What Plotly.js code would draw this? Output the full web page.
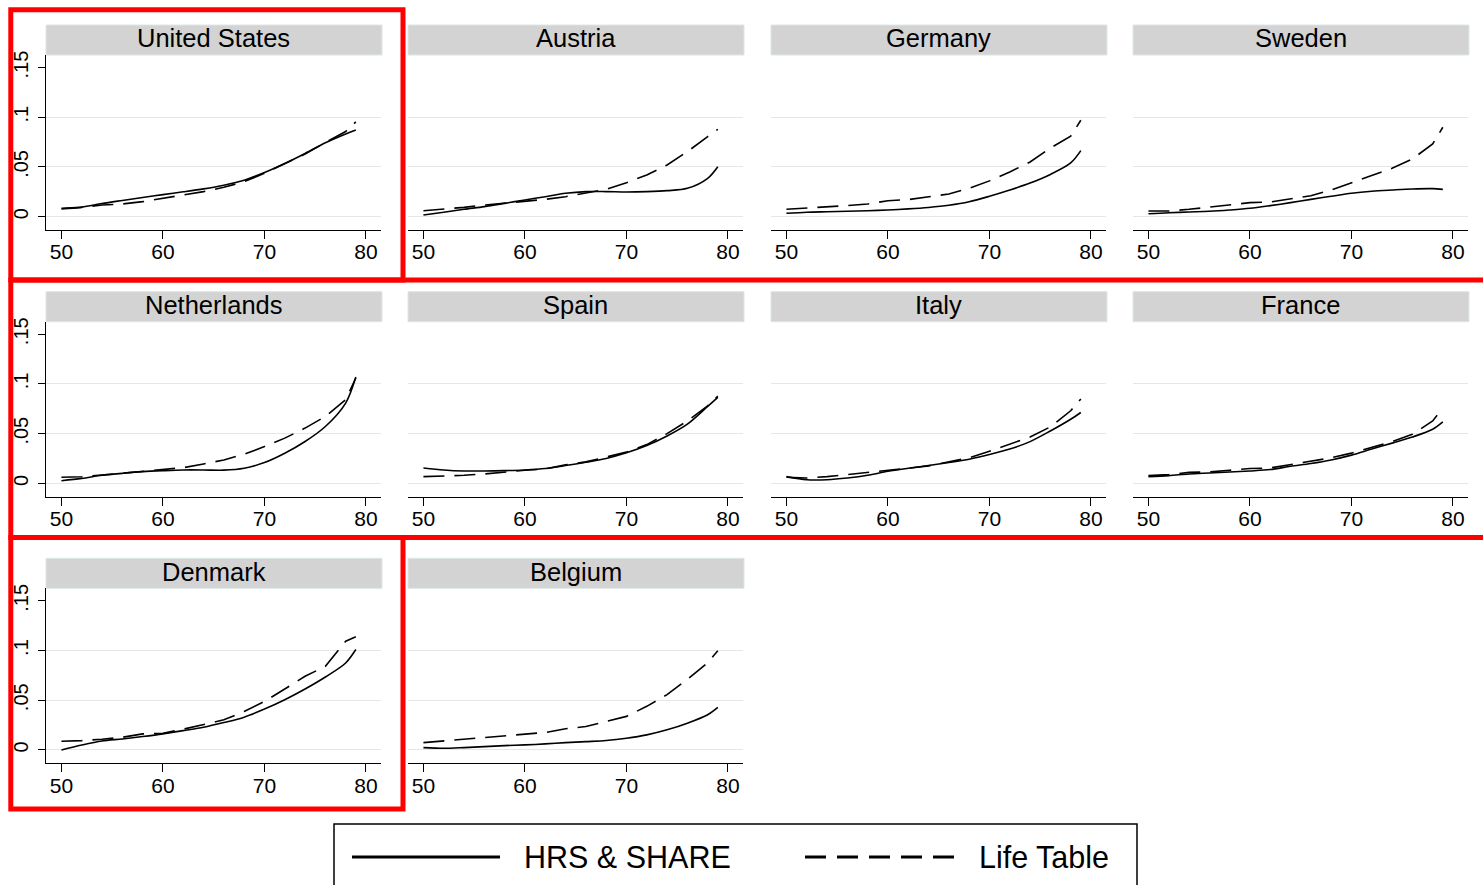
<!DOCTYPE html>
<html>
<head>
<meta charset="utf-8">
<script src="https://cdn.plot.ly/plotly-3.0.1.min.js"></script>
<style>
  html, body { margin: 0; padding: 0; background: #ffffff; }
  #chart { width: 1483px; height: 885px; }
</style>
</head>
<body>
<div id="chart"></div>
<script>
// Ages at which the hazard curves are sampled
const ages = [50, 52, 54, 56, 58, 60, 62, 64, 66, 68, 70, 72, 74, 76, 78, 79];

// HRS & SHARE estimates (solid) and life-table values (dashed), per country
const usHrs   = [0.0077, 0.0096, 0.0132, 0.0163, 0.0193, 0.0222, 0.0250, 0.0280, 0.0317, 0.0367, 0.0444, 0.0535, 0.0636, 0.0743, 0.0832, 0.0872];
const usLife  = [0.0084, 0.0094, 0.0117, 0.0128, 0.0151, 0.0185, 0.0218, 0.0252, 0.0295, 0.0352, 0.0436, 0.0530, 0.0631, 0.0745, 0.0856, 0.0953];
const atHrs   = [0.0017, 0.0044, 0.0074, 0.0101, 0.0134, 0.0168, 0.0201, 0.0235, 0.0252, 0.0252, 0.0248, 0.0252, 0.0262, 0.0285, 0.0386, 0.0503];
const atLife  = [0.0060, 0.0074, 0.0094, 0.0117, 0.0134, 0.0158, 0.0174, 0.0201, 0.0235, 0.0275, 0.0342, 0.0419, 0.0520, 0.0654, 0.0805, 0.0879];
const deHrs   = [0.0034, 0.0045, 0.0050, 0.0055, 0.0060, 0.0067, 0.0078, 0.0093, 0.0115, 0.0150, 0.0205, 0.0268, 0.0338, 0.0425, 0.0540, 0.0664];
const deLife  = [0.0074, 0.0085, 0.0100, 0.0112, 0.0128, 0.0160, 0.0172, 0.0200, 0.0228, 0.0285, 0.0360, 0.0450, 0.0550, 0.0690, 0.0810, 0.0970];
const seHrs   = [0.0030, 0.0040, 0.0047, 0.0054, 0.0067, 0.0084, 0.0111, 0.0141, 0.0174, 0.0205, 0.0235, 0.0255, 0.0268, 0.0279, 0.0282, 0.0275];
const seLife  = [0.0057, 0.0057, 0.0074, 0.0094, 0.0117, 0.0141, 0.0148, 0.0181, 0.0211, 0.0268, 0.0342, 0.0409, 0.0487, 0.0580, 0.0732, 0.0899];
const nlHrs   = [0.0027, 0.0050, 0.0081, 0.0101, 0.0118, 0.0128, 0.0135, 0.0135, 0.0133, 0.0152, 0.0209, 0.0303, 0.0421, 0.0572, 0.0808, 0.1070];
const nlLife  = [0.0061, 0.0067, 0.0084, 0.0101, 0.0118, 0.0135, 0.0158, 0.0195, 0.0236, 0.0293, 0.0370, 0.0455, 0.0556, 0.0673, 0.0842, 0.1060];
const esHrs   = [0.0155, 0.0135, 0.0125, 0.0125, 0.0128, 0.0135, 0.0149, 0.0179, 0.0213, 0.0250, 0.0307, 0.0380, 0.0476, 0.0595, 0.0774, 0.0865];
const esLife  = [0.0068, 0.0071, 0.0081, 0.0095, 0.0115, 0.0132, 0.0145, 0.0186, 0.0216, 0.0264, 0.0314, 0.0390, 0.0500, 0.0628, 0.0780, 0.0878];
const itHrs   = [0.0068, 0.0037, 0.0037, 0.0054, 0.0081, 0.0122, 0.0152, 0.0179, 0.0210, 0.0243, 0.0290, 0.0345, 0.0420, 0.0527, 0.0645, 0.0713];
const itLife  = [0.0061, 0.0054, 0.0068, 0.0088, 0.0110, 0.0125, 0.0152, 0.0176, 0.0213, 0.0257, 0.0324, 0.0392, 0.0466, 0.0568, 0.0730, 0.0848];
const frHrs   = [0.0068, 0.0078, 0.0095, 0.0105, 0.0115, 0.0125, 0.0139, 0.0172, 0.0200, 0.0236, 0.0284, 0.0345, 0.0405, 0.0466, 0.0544, 0.0618];
const frLife  = [0.0078, 0.0088, 0.0111, 0.0115, 0.0132, 0.0149, 0.0155, 0.0189, 0.0216, 0.0257, 0.0304, 0.0358, 0.0419, 0.0493, 0.0628, 0.0757];
const dkHrs   = [0.0000, 0.0050, 0.0091, 0.0111, 0.0135, 0.0162, 0.0195, 0.0229, 0.0276, 0.0330, 0.0411, 0.0505, 0.0613, 0.0734, 0.0875, 0.1010];
const dkLife  = [0.0088, 0.0094, 0.0108, 0.0128, 0.0162, 0.0168, 0.0209, 0.0253, 0.0303, 0.0387, 0.0488, 0.0613, 0.0741, 0.0842, 0.1094, 0.1138];
const beHrs   = [0.0024, 0.0017, 0.0024, 0.0034, 0.0044, 0.0051, 0.0061, 0.0074, 0.0084, 0.0095, 0.0118, 0.0152, 0.0203, 0.0270, 0.0355, 0.0429];
const beLife  = [0.0074, 0.0091, 0.0108, 0.0118, 0.0142, 0.0159, 0.0176, 0.0213, 0.0236, 0.0287, 0.0338, 0.0439, 0.0557, 0.0710, 0.0878, 0.0997];

const countries = ['United States', 'Austria', 'Germany', 'Sweden', 'Netherlands', 'Spain', 'Italy', 'France', 'Denmark', 'Belgium'];
const hrsSeries  = [usHrs, atHrs, deHrs, seHrs, nlHrs, esHrs, itHrs, frHrs, dkHrs, beHrs];
const lifeSeries = [usLife, atLife, deLife, seLife, nlLife, esLife, itLife, frLife, dkLife, beLife];

const xTicks = [50, 60, 70, 80];
const yTicks = [0, 0.05, 0.1, 0.15];
const yTickText = ['0', '.05', '.1', '.15'];
const legendNames = ['HRS & SHARE', 'Life Table'];

// Page geometry (pixels)
const W = 1483, H = 885;
const colLeft = [46, 408, 771, 1133];
const colWidth = 335;
const rowTop = [55, 321.7, 588.3];
const rowHeight = 175;
const stripHeight = 30;

const px = v => v / W;
const py = v => 1 - v / H;
const FONT = 'Liberation Sans, Arial, Helvetica, sans-serif';

const traces = [];
const layout = {
  width: W, height: H,
  margin: { l: 0, r: 0, t: 0, b: 0, pad: 0 },
  paper_bgcolor: '#ffffff',
  plot_bgcolor: '#ffffff',
  showlegend: false,
  font: { family: FONT, color: '#000000' },
  shapes: [],
  annotations: []
};

countries.forEach((name, i) => {
  const row = Math.floor(i / 4), col = i % 4;
  const n = i + 1;
  const xa = 'x' + (n === 1 ? '' : n), ya = 'y' + (n === 1 ? '' : n);
  const xKey = 'xaxis' + (n === 1 ? '' : n), yKey = 'yaxis' + (n === 1 ? '' : n);
  const left = colLeft[col], top = rowTop[row];

  layout[xKey] = {
    domain: [px(left), px(left + colWidth)],
    anchor: ya,
    range: [48.48, 81.48],
    tickmode: 'array', tickvals: xTicks,
    ticks: 'outside', ticklen: 8, tickwidth: 1, tickcolor: '#000',
    ticklabelstandoff: -5,
    showline: true, linecolor: '#000', linewidth: 1,
    showgrid: false, zeroline: false,
    tickfont: { size: 21, color: '#000', family: FONT },
    fixedrange: true
  };
  const first = col === 0;
  layout[yKey] = {
    domain: [py(top + rowHeight), py(top)],
    anchor: xa,
    range: [-0.0134, 0.1626],
    tickmode: 'array', tickvals: yTicks, ticktext: yTickText,
    showticklabels: first,
    ticks: first ? 'outside' : '', ticklen: 7, tickwidth: 1, tickcolor: '#000',
    tickangle: -90,
    ticklabelstandoff: 2,
    showline: first, linecolor: '#000', linewidth: 1,
    showgrid: false, zeroline: false,
    minor: { tickmode: 'array', tickvals: [0, 0.05, 0.1], showgrid: true, gridcolor: '#e6e6e6', gridwidth: 1, ticks: '' },
    tickfont: { size: 20, color: '#000', family: FONT },
    fixedrange: true
  };

  traces.push({
    type: 'scatter', mode: 'lines', x: ages, y: hrsSeries[i],
    xaxis: xa, yaxis: ya, name: legendNames[0],
    line: { color: '#000', width: 1.6, shape: 'spline', smoothing: 0.9 },
    hoverinfo: 'skip'
  });
  traces.push({
    type: 'scatter', mode: 'lines', x: ages, y: lifeSeries[i],
    xaxis: xa, yaxis: ya, name: legendNames[1],
    line: { color: '#000', width: 1.6, dash: '21px,10px' },
    hoverinfo: 'skip'
  });

  // grey title strip above each panel
  const sTop = top - stripHeight;
  layout.shapes.push({
    type: 'rect', xref: 'paper', yref: 'paper', layer: 'below',
    x0: px(left), x1: px(left + colWidth + 1), y0: py(top), y1: py(sTop),
    fillcolor: '#d3d3d3', line: { color: '#dde6e8', width: 1 }
  });
  layout.annotations.push({
    xref: 'paper', yref: 'paper', x: px(left + colWidth / 2), y: py(sTop + stripHeight / 2 - 1.5),
    xanchor: 'center', yanchor: 'middle', showarrow: false,
    text: name, font: { size: 25.5, color: '#000', family: FONT }
  });
});

// Legend box along the bottom
layout.shapes.push({
  type: 'rect', xref: 'paper', yref: 'paper',
  x0: px(334), x1: px(1137), y0: py(824), y1: py(905),
  line: { color: '#000', width: 1.5 }, fillcolor: 'rgba(0,0,0,0)'
});
layout.shapes.push({
  type: 'line', xref: 'paper', yref: 'paper',
  x0: px(352), x1: px(500), y0: py(857), y1: py(857),
  line: { color: '#000', width: 3 }
});
layout.shapes.push({
  type: 'line', xref: 'paper', yref: 'paper',
  x0: px(805), x1: px(956), y0: py(857), y1: py(857),
  line: { color: '#000', width: 3, dash: '21px,11px' }
});
layout.annotations.push({
  xref: 'paper', yref: 'paper', x: px(522), y: py(857),
  xanchor: 'left', yanchor: 'middle', showarrow: false,
  text: legendNames[0], font: { size: 30.5, color: '#000', family: FONT }
});
layout.annotations.push({
  xref: 'paper', yref: 'paper', x: px(977), y: py(857),
  xanchor: 'left', yanchor: 'middle', showarrow: false,
  text: legendNames[1], font: { size: 30.5, color: '#000', family: FONT }
});

// Red highlight frames
const red = { color: '#ff0000', width: 5 };
layout.shapes.push({ type: 'rect', xref: 'paper', yref: 'paper', x0: px(10.8), x1: px(403), y0: py(280), y1: py(9.7), line: red, fillcolor: 'rgba(0,0,0,0)' });
layout.shapes.push({ type: 'rect', xref: 'paper', yref: 'paper', x0: px(10.8), x1: px(1495), y0: py(537.5), y1: py(280), line: red, fillcolor: 'rgba(0,0,0,0)' });
layout.shapes.push({ type: 'rect', xref: 'paper', yref: 'paper', x0: px(10.8), x1: px(403), y0: py(809), y1: py(537.5), line: red, fillcolor: 'rgba(0,0,0,0)' });

Plotly.newPlot('chart', traces, layout, { staticPlot: true, displayModeBar: false });
</script>
</body>
</html>
